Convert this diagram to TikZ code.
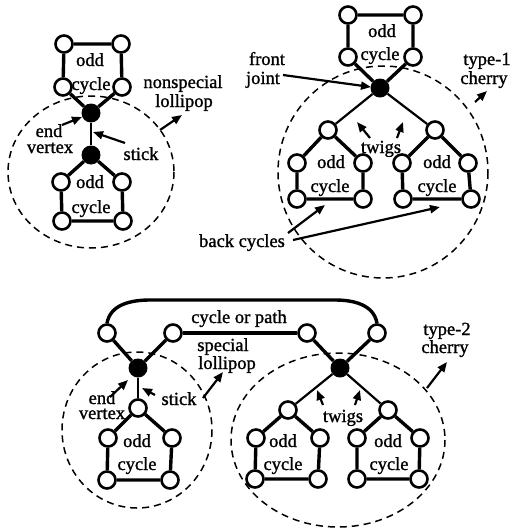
\documentclass[tikz,border=0pt]{standalone}
\usepackage{fontspec}
\setmainfont{Liberation Serif}[FakeBold=1.2]
\usetikzlibrary{arrows.meta}
\begin{document}
\begin{tikzpicture}[x=1pt,y=-1pt,
  ov/.style={circle,draw,fill=white,line width=2.6pt,minimum size=17pt,inner sep=0pt},
  bv/.style={circle,fill=black,minimum size=19pt,inner sep=0pt},
  cyc/.style={line width=3.4pt},
  twig/.style={line width=2.2pt},
  zone/.style={line width=1.5pt,dash pattern=on 7pt off 5pt},
  lbl/.style={font=\fontsize{18.5}{20}\selectfont\addfontfeature{FakeBold=1.2},inner sep=0pt,anchor=base},
  ptr/.style={line width=2.2pt,-{Triangle[length=10pt,width=8pt]}},
]
\useasboundingbox (0,0) rectangle (512,528);

% ---------- dashed regions ----------
\draw[zone] (91,172) ellipse [x radius=83,y radius=76];
\draw[zone] (383,172) ellipse [x radius=105,y radius=106];
\draw[zone] (137,430) ellipse [x radius=75,y radius=78];
\draw[zone] (338,440) ellipse [x radius=107,y radius=87];

% ---------- nonspecial lollipop ----------
\node[ov] (a1) at (64,44) {};
\node[ov] (a2) at (121,44) {};
\node[ov] (a3) at (122,87) {};
\node[ov] (a4) at (63,87) {};
\node[bv] (a5) at (91,113) {};
\node[bv] (a6) at (91,155) {};
\node[ov] (a7) at (61,182) {};
\node[ov] (a8) at (122,182) {};
\node[ov] (a9) at (62,221) {};
\node[ov] (a10) at (123,221) {};
\draw[cyc] (a1) -- (a2) -- (a3) -- (a5) -- (a4) -- (a1);
\draw[twig] (a5) -- (a6);
\draw[cyc] (a6) -- (a7) -- (a9) -- (a10) -- (a8) -- (a6);

% ---------- type-1 cherry ----------
\node[ov] (b1) at (348,15) {};
\node[ov] (b2) at (413,15) {};
\node[ov] (b3) at (413,57) {};
\node[ov] (b4) at (348,57) {};
\node[bv] (b5) at (380,88) {};
\node[ov] (b6) at (328,130) {};
\node[ov] (b7) at (297,163) {};
\node[ov] (b8) at (363,163) {};
\node[ov] (b9) at (297,199) {};
\node[ov] (b10) at (363,199) {};
\node[ov] (b11) at (435,130) {};
\node[ov] (b12) at (402,163) {};
\node[ov] (b13) at (468,163) {};
\node[ov] (b14) at (403,199) {};
\node[ov] (b15) at (471,199) {};
\draw[cyc] (b1) -- (b2) -- (b3) -- (b5) -- (b4) -- (b1);
\draw[twig] (b5) -- (b6);
\draw[twig] (b5) -- (b11);
\draw[cyc] (b6) -- (b7) -- (b9) -- (b10) -- (b8) -- (b6);
\draw[cyc] (b11) -- (b12) -- (b14) -- (b15) -- (b13) -- (b11);

% ---------- special lollipop and type-2 cherry ----------
\node[ov] (c1) at (107,333) {};
\node[ov] (c2) at (173,333) {};
\node[bv] (c3) at (138,368) {};
\node[ov] (c4) at (138,408) {};
\node[ov] (c5) at (108,438) {};
\node[ov] (c6) at (172,438) {};
\node[ov] (c7) at (107,480) {};
\node[ov] (c8) at (170,480) {};
\draw[cyc] (c1) -- (c3) -- (c2);
\draw[twig] (c3) -- (c4);
\draw[cyc] (c4) -- (c5) -- (c7) -- (c8) -- (c6) -- (c4);

\node[ov] (d1) at (307,333) {};
\node[ov] (d2) at (377,333) {};
\node[bv] (d3) at (340,368) {};
\node[ov] (d4) at (288,410) {};
\node[ov] (d5) at (256,438) {};
\node[ov] (d6) at (320,438) {};
\node[ov] (d7) at (255,479) {};
\node[ov] (d8) at (318,479) {};
\node[ov] (d9) at (388,410) {};
\node[ov] (d10) at (357,438) {};
\node[ov] (d11) at (420,438) {};
\node[ov] (d12) at (357,479) {};
\node[ov] (d13) at (419,479) {};
\draw[cyc] (d1) -- (d3) -- (d2);
\draw[twig] (d3) -- (d4);
\draw[twig] (d3) -- (d9);
\draw[cyc] (d4) -- (d5) -- (d7) -- (d8) -- (d6) -- (d4);
\draw[cyc] (d9) -- (d10) -- (d12) -- (d13) -- (d11) -- (d9);

% cycle or path joining the two parts
\draw[cyc] (c2) -- (d1);
\draw[cyc] (c1.north) to[out=80,in=180] (150,300) -- (335,300) to[out=0,in=100] (d2.north);

% ---------- labels ----------
\node[lbl] (t1) at (90,66) {odd};
\node[lbl] (t2) at (91,90) {cycle};
\node[lbl] (t3) at (90,188) {odd};
\node[lbl] (t4) at (91,213) {cycle};
\node[lbl] (t5) at (49,137) {end};
\node[lbl] (t6) at (50,153) {vertex};
\node[lbl] (t7) at (141,160) {stick};
\node[lbl] (t8) at (183,88) {nonspecial};
\node[lbl] (t9) at (184,107) {lollipop};

\node[lbl] (u1) at (382,37) {odd};
\node[lbl] (u2) at (380,60) {cycle};
\node[lbl] (u3) at (267,65) {front};
\node[lbl] (u4) at (263,84) {joint};
\node[lbl] (u5) at (487,65) {type-1};
\node[lbl] (u6) at (484,84) {cherry};
\node[lbl] (u7) at (381,153) {twigs};
\node[lbl] (u8) at (331,168) {odd};
\node[lbl] (u9) at (330,192) {cycle};
\node[lbl] (u10) at (437,168) {odd};
\node[lbl] (u11) at (437,192) {cycle};
\node[lbl] (u12) at (242,247) {back cycles};

\node[lbl] (v1) at (102,404) {end};
\node[lbl] (v2) at (102,419) {vertex};
\node[lbl] (v3) at (179,405) {stick};
\node[lbl] (v4) at (137,447) {odd};
\node[lbl] (v5) at (137,470) {cycle};
\node[lbl] (v6) at (223,351) {special};
\node[lbl] (v7) at (227,369) {lollipop};
\node[lbl] (v8) at (239,323) {cycle or path};
\node[lbl] (v9) at (343,422) {twigs};
\node[lbl] (v10) at (283,447) {odd};
\node[lbl] (v11) at (283,470) {cycle};
\node[lbl] (v12) at (388,447) {odd};
\node[lbl] (v13) at (389,470) {cycle};
\node[lbl] (v14) at (447,335) {type-2};
\node[lbl] (v15) at (445,353) {cherry};

% ---------- pointers ----------
\coordinate (p1) at (62,125);   \coordinate (q1) at (82,117);
\coordinate (p2) at (125,143);  \coordinate (q2) at (93,132);
\coordinate (p3) at (160,130);  \coordinate (q3) at (182,115);
\coordinate (p4) at (283,75);   \coordinate (q4) at (371,87);
\coordinate (p5) at (475,102);  \coordinate (q5) at (487,91);
\coordinate (p6) at (370,138);  \coordinate (q6) at (357,122);
\coordinate (p7) at (397,138);  \coordinate (q7) at (403,122);
\coordinate (p8) at (288,233);  \coordinate (q8) at (325,205);
\coordinate (p9) at (293,240);  \coordinate (q9) at (440,207);
\coordinate (p10) at (110,397); \coordinate (q10) at (128,380);
\coordinate (p11) at (155,395); \coordinate (q11) at (142,388);
\coordinate (p12) at (203,398); \coordinate (q12) at (223,372);
\coordinate (p13) at (323,405); \coordinate (q13) at (317,390);
\coordinate (p14) at (355,405); \coordinate (q14) at (360,390);
\coordinate (p15) at (427,388); \coordinate (q15) at (447,362);
\foreach \i in {1,...,15} \draw[ptr] (p\i) -- (q\i);
\end{tikzpicture}
\end{document}
